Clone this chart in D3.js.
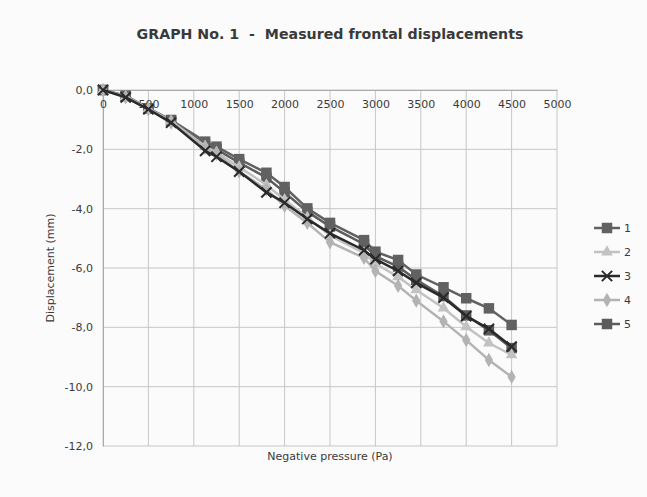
<!DOCTYPE html>
<html>
<head>
<meta charset="utf-8">
<script src="https://cdn.jsdelivr.net/npm/d3@7"></script>
<style>
  body { margin: 0; background: #fbfbfb; }
  text { font-family: "DejaVu Sans", Verdana, sans-serif; fill: #3a3a3a; }
</style>
</head>
<body>
<div id="chart"></div>
<script>
// pressure steps (Pa)
const pressure = [0, 250, 500, 750, 1125, 1250, 1500, 1800, 2000, 2250, 2500, 2875, 3000, 3250, 3450, 3750, 4000, 4250, 4500];
// displacement (mm) per gauge
const s1 = [0, -0.2, -0.62, -1.01, -1.74, -1.91, -2.33, -2.79, -3.27, -3.99, -4.48, -5.06, -5.45, -5.73, -6.22, -6.65, -7.02, -7.36, -7.92];
const s2 = [0, -0.22, -0.63, -1.05, -1.9, -2.1, -2.6, -3.2, -3.7, -4.3, -4.9, -5.5, -5.85, -6.3, -6.74, -7.35, -7.98, -8.53, -8.93];
const s3 = [0, -0.25, -0.65, -1.1, -2.05, -2.25, -2.75, -3.45, -3.8, -4.35, -4.83, -5.4, -5.7, -6.1, -6.5, -7.0, -7.62, -8.05, -8.65];
const s4 = [0, -0.25, -0.65, -1.1, -1.95, -2.15, -2.75, -3.35, -3.9, -4.48, -5.13, -5.66, -6.1, -6.6, -7.1, -7.8, -8.43, -9.1, -9.67];
const s5 = [0, -0.2, -0.62, -1.03, -1.85, -2.0, -2.45, -2.95, -3.45, -4.1, -4.6, -5.2, -5.6, -5.95, -6.4, -6.95, -7.6, -8.1, -8.7];
const seriesNames = ["1", "2", "3", "4", "5"];
const xTicks = [0, 500, 1000, 1500, 2000, 2500, 3000, 3500, 4000, 4500, 5000];
const yTicks = [0, -2, -4, -6, -8, -10, -12];

const W = 647, H = 497;
const svg = d3.select("#chart").append("svg").attr("width", W).attr("height", H);

const x = d3.scaleLinear().domain([0, 5000]).range([103, 557]);
const y = d3.scaleLinear().domain([0, -12]).range([90, 446]);

// grid
const grid = svg.append("g");
grid.selectAll("line.v").data(xTicks).enter().append("line")
  .attr("x1", d => x(d)).attr("x2", d => x(d))
  .attr("y1", y(0)).attr("y2", y(-12))
  .attr("stroke", "#c6c6c6").attr("stroke-width", 1);
grid.selectAll("line.h").data(yTicks).enter().append("line")
  .attr("x1", x(0)).attr("x2", x(5000))
  .attr("y1", d => y(d)).attr("y2", d => y(d))
  .attr("stroke", "#c6c6c6").attr("stroke-width", 1);

// axes
let yAxis = d3.axisLeft(y).tickValues(yTicks).tickSize(0).tickPadding(10)
  .tickFormat(d => d3.format(".1f")(d).replace("−", "-").replace(".", ","));
svg.append("g").attr("transform", `translate(${x(0)},0)`).call(yAxis)
  .call(g => g.select(".domain").attr("stroke", "#aaa"))
  .selectAll("text").style("font-size", "11px").attr("fill", "#444");

let xAxis = d3.axisBottom(x).tickValues(xTicks).tickSize(0).tickPadding(10)
  .tickFormat(d3.format("d"));
svg.append("g").attr("transform", `translate(0,${y(0)})`).call(xAxis)
  .call(g => g.select(".domain").attr("stroke", "#aaa"))
  .selectAll("text").style("font-size", "11px").attr("fill", "#444");

// titles
svg.append("text").attr("x", 330).attr("y", 39).attr("text-anchor", "middle")
  .style("font-size", "14.2px").style("font-weight", "bold").style("white-space", "pre")
  .attr("fill", "#333")
  .text("GRAPH No. 1  -  Measured frontal displacements");
svg.append("text").attr("x", 330).attr("y", 460).attr("text-anchor", "middle")
  .style("font-size", "11px").text("Negative pressure (Pa)");
svg.append("text").attr("transform", "translate(54,268) rotate(-90)").attr("text-anchor", "middle")
  .style("font-size", "11px").text("Displacement (mm)");

// series
let series = [
  { name: seriesNames[0], vals: s1, color: "#616161", sym: d3.symbolSquare, size: 110, stroke: false },
  { name: seriesNames[1], vals: s2, color: "#c2c2c2", sym: d3.symbolTriangle, size: 60, stroke: false },
  { name: seriesNames[2], vals: s3, color: "#2a2a2a", sym: d3.symbolTimes, size: 70, stroke: true },
  { name: seriesNames[3], vals: s4, color: "#b3b3b3", sym: d3.symbolDiamond, size: 60, stroke: false },
  { name: seriesNames[4], vals: s5, color: "#5c5c5c", sym: d3.symbolSquare, size: 110, stroke: false }
];
let line = d3.line().x(d => x(d[0])).y(d => y(d[1]));

// series 5 sits underneath the others
let drawOrder = [4, 0, 1, 3, 2];
drawOrder.forEach(k => {
  let s = series[k];
  let pts = pressure.map((p, i) => [p, s.vals[i]]);
  let g = svg.append("g");
  g.append("path").datum(pts).attr("d", line)
    .attr("fill", "none").attr("stroke", s.color).attr("stroke-width", 2.5);
  g.selectAll("path.m").data(pts).enter().append("path")
    .attr("transform", d => `translate(${x(d[0])},${y(d[1])})`)
    .attr("d", d3.symbol(s.sym, s.size))
    .attr("fill", s.stroke ? "none" : s.color)
    .attr("stroke", s.stroke ? s.color : "none")
    .attr("stroke-width", 2);
});

// legend
let leg = svg.append("g");
series.forEach((s, i) => {
  let ly = 228 + i * 24;
  leg.append("line").attr("x1", 594).attr("x2", 620).attr("y1", ly).attr("y2", ly)
    .attr("stroke", s.color).attr("stroke-width", 2.5);
  leg.append("path").attr("transform", `translate(607,${ly})`)
    .attr("d", d3.symbol(s.sym, s.size))
    .attr("fill", s.stroke ? "none" : s.color)
    .attr("stroke", s.stroke ? s.color : "none").attr("stroke-width", 2);
  leg.append("text").attr("x", 624).attr("y", ly + 4).style("font-size", "11px").text(s.name);
});
</script>
</body>
</html>
